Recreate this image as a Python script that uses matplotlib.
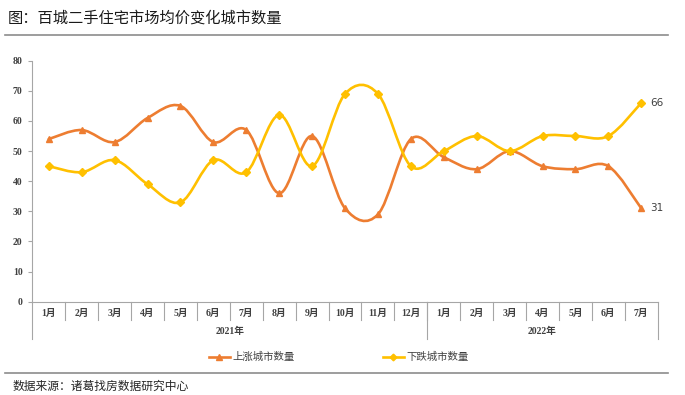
import matplotlib
matplotlib.use("Agg")
import matplotlib.pyplot as plt
from matplotlib.path import Path
from matplotlib.patches import PathPatch
from matplotlib.lines import Line2D
import numpy as np

plt.rcParams["font.family"] = ["Liberation Serif", "Noto Sans CJK SC"]
plt.rcParams["axes.unicode_minus"] = False

# 数据
months = ["1月", "2月", "3月", "4月", "5月", "6月", "7月", "8月", "9月", "10月", "11月", "12月",
          "1月", "2月", "3月", "4月", "5月", "6月", "7月"]
years = ["2021年", "2022年"]
year_counts = [12, 7]
up_cities = [54, 57, 53, 61, 65, 53, 57, 36, 55, 31, 29, 54, 48, 44, 50, 45, 44, 45, 31]
down_cities = [45, 43, 47, 39, 33, 47, 43, 62, 45, 69, 69, 45, 50, 55, 50, 55, 55, 55, 66]
series_names = ["上涨城市数量", "下跌城市数量"]

ORANGE = "#ED7D31"
YELLOW = "#FFC000"
GRID = "#A6A6A6"
TEXT = "#404040"


def smooth_path(xs, ys):
    # Excel 风格平滑线: Catmull-Rom 转贝塞尔
    n = len(xs)
    verts = [(xs[0], ys[0])]
    codes = [Path.MOVETO]
    for i in range(n - 1):
        x0, y0 = (xs[i - 1], ys[i - 1]) if i > 0 else (xs[i], ys[i])
        x1, y1 = xs[i], ys[i]
        x2, y2 = xs[i + 1], ys[i + 1]
        x3, y3 = (xs[i + 2], ys[i + 2]) if i + 2 < n else (xs[i + 1], ys[i + 1])
        c1 = (x1 + (x2 - x0) / 6, y1 + (y2 - y0) / 6)
        c2 = (x2 - (x3 - x1) / 6, y2 - (y3 - y1) / 6)
        verts += [c1, c2, (x2, y2)]
        codes += [Path.CURVE4] * 3
    return Path(verts, codes)


fig = plt.figure(figsize=(6.85, 3.95), dpi=100)
ax = fig.add_axes([0.0472, 0.2362, 0.913, 0.610])

x = np.arange(len(months))
styles = [(up_cities, ORANGE, "^", 5), (down_cities, YELLOW, "D", 4.2)]
for vals, color, marker, ms in styles:
    ax.add_patch(PathPatch(smooth_path(x, vals), facecolor="none", edgecolor=color,
                           lw=1.9, zorder=3, capstyle="round"))
    ax.plot(x, vals, ls="none", marker=marker, ms=ms, color=color, zorder=4)

ax.set_xlim(-0.5, len(months) - 0.5)
ax.set_ylim(0, 80)
ax.set_yticks(range(0, 81, 10))
ax.tick_params(axis="y", labelsize=7, colors=TEXT, length=3, width=0.8, color=GRID, pad=4)
for lab in ax.get_yticklabels():
    lab.set_fontweight("bold")
ax.set_xticks([])
for s in ["top", "right"]:
    ax.spines[s].set_visible(False)
for s in ["left", "bottom"]:
    ax.spines[s].set_color(GRID)
    ax.spines[s].set_linewidth(0.8)

# 末端数据标签
for vals in (down_cities, up_cities):
    ax.annotate(str(vals[-1]), (x[-1], vals[-1]), xytext=(6.5, 0),
                textcoords="offset points", va="center", fontsize=7.5, color=TEXT,
                family=["DejaVu Sans"], annotation_clip=False)

# 分类轴: 月份 + 年份
trans = ax.get_xaxis_transform()
ax_h_px = 0.610 * 395
def px(v):
    return -v / ax_h_px

for i, m in enumerate(months):
    ax.text(x[i], px(12), m, transform=trans, ha="center", va="center",
            fontsize=7, color=TEXT, fontweight="bold")
for b in range(1, len(months)):
    ax.plot([b - 0.5, b - 0.5], [0, px(18)], transform=trans, color=GRID, lw=0.8, clip_on=False)

start = 0
bounds = [-0.5]
for yr, cnt in zip(years, year_counts):
    mid = start + (cnt - 1) / 2
    ax.text(mid, px(30), yr, transform=trans, ha="center", va="center",
            fontsize=7, color=TEXT, fontweight="bold")
    start += cnt
    bounds.append(start - 0.5)
for b in bounds:
    ax.plot([b, b], [0, px(37)], transform=trans, color=GRID, lw=0.8, clip_on=False)

# 图例 (手动放置)
leg_y = 1 - 356.5 / 395
for (vals, color, marker, ms), x0, name in zip(styles, [209, 383], series_names):
    fig.add_artist(Line2D([x0 / 685, (x0 + 21) / 685], [leg_y, leg_y], color=color, lw=1.9))
    fig.add_artist(Line2D([(x0 + 10.5) / 685], [leg_y], color=color, marker=marker,
                          ms=ms - 0.8, ls="none"))
    fig.text((x0 + 23) / 685, leg_y, name, fontsize=7.5, va="center", ha="left",
             color=TEXT, family=["Noto Sans CJK SC"])

# 标题与来源
fig.text(8 / 685, 1 - 18 / 395, "图：百城二手住宅市场均价变化城市数量", fontsize=11,
         va="center", ha="left", color="#1a1a1a", family=["Noto Sans CJK SC"])
fig.add_artist(Line2D([5 / 685, 668 / 685], [1 - 34.5 / 395] * 2, color="#8c8c8c", lw=1.2))
fig.add_artist(Line2D([5 / 685, 668 / 685], [1 - 372.5 / 395] * 2, color="#8c8c8c", lw=1.2))
fig.text(13 / 685, 1 - 386 / 395, "数据来源：诸葛找房数据研究中心", fontsize=8.5,
         va="center", ha="left", color="#262626", family=["Noto Sans CJK SC"])

fig.savefig("out.png", dpi=100)
